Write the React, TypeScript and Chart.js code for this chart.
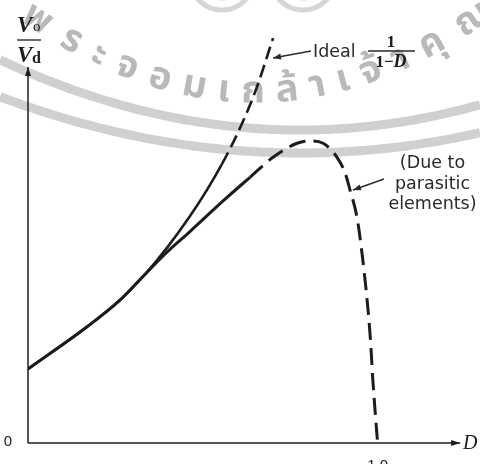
import React, { useEffect, useRef } from "react";
import { Chart, registerables } from "chart.js";

Chart.register(...registerables);

// Duty ratio D and gain Vo/Vd
const IDEAL_D = [0, 0.169, 0.263, 0.335, 0.398, 0.464, 0.512, 0.555, 0.595, 0.629, 0.658, 0.681, 0.701];
const IDEAL_V = [1.0, 1.57, 1.93, 2.28, 2.64, 3.07, 3.42, 3.77, 4.14, 4.5, 4.85, 5.18, 5.47];
const REAL_D = [0, 0.169, 0.263, 0.335, 0.398, 0.464, 0.558, 0.635, 0.701, 0.77, 0.807, 0.844, 0.884, 0.907, 0.921, 0.941, 0.956, 0.97, 0.979, 0.987, 1.0];
const REAL_V = [1.0, 1.57, 1.93, 2.28, 2.58, 2.86, 3.27, 3.59, 3.86, 4.05, 4.08, 4.05, 3.86, 3.65, 3.42, 3.05, 2.54, 1.93, 1.43, 0.81, 0];
const IDEAL_DASH_FROM = 0.55;
const REAL_DASH_FROM = 0.6;
const X_TICK_LABELS = ["0", "1.0"];
const X_TICK_VALUES = [0, 1.0];
const X_AXIS_END = 1.236;
const Y_AXIS_END = 5.08;
const X_MAX = 1.25;
const Y_MAX = 5.85;
const IDEAL_LABEL = "Ideal";
const PARASITIC_LABEL = ["(Due to", "parasitic", "elements)"];
const WATERMARK = "พระจอมเกล้าเจ้าคุณ";

const INK = "#1c1c1c";

function arrowHead(ctx: CanvasRenderingContext2D, x1: number, y1: number, x2: number, y2: number, len: number, half: number) {
  const a = Math.atan2(y2 - y1, x2 - x1);
  ctx.beginPath();
  ctx.moveTo(x2, y2);
  ctx.lineTo(x2 - len * Math.cos(a) + half * Math.sin(a), y2 - len * Math.sin(a) - half * Math.cos(a));
  ctx.lineTo(x2 - len * Math.cos(a) - half * Math.sin(a), y2 - len * Math.sin(a) + half * Math.cos(a));
  ctx.closePath();
  ctx.fill();
}

function arrow(ctx: CanvasRenderingContext2D, x1: number, y1: number, x2: number, y2: number, len = 7, half = 3) {
  ctx.beginPath();
  ctx.moveTo(x1, y1);
  ctx.lineTo(x2, y2);
  ctx.stroke();
  arrowHead(ctx, x1, y1, x2, y2, len, half);
}

function drawWatermark(ctx: CanvasRenderingContext2D) {
  ctx.save();
  // faint logo rings at the top edge
  ctx.strokeStyle = "#d6d6d6";
  ctx.lineWidth = 5;
  const rings: [number, number, number][] = [
    [222, -22, 32],
    [222, -22, 20],
    [303, -22, 32],
    [303, -22, 20],
  ];
  for (const [cx, cy, r] of rings) {
    ctx.beginPath();
    ctx.arc(cx, cy, r, 0, Math.PI * 2);
    ctx.stroke();
  }
  // arc bands
  ctx.strokeStyle = "#d0d0d0";
  ctx.lineWidth = 9;
  const bands: [number, number][] = [
    [130, 0.00078],
    [153, 0.000625],
  ];
  for (const [yb, k] of bands) {
    ctx.beginPath();
    for (let x = 0; x <= 480; x += 4) {
      const y = yb - k * (x - 300) * (x - 300);
      if (x === 0) ctx.moveTo(x, y);
      else ctx.lineTo(x, y);
    }
    ctx.stroke();
  }
  // curved text
  ctx.fillStyle = "#b9b9b9";
  ctx.font = 'bold 38px "Noto Sans Thai", "Noto Sans", sans-serif';
  ctx.textAlign = "center";
  ctx.textBaseline = "middle";
  let graphemes: string[];
  try {
    const seg = new (Intl as any).Segmenter("th", { granularity: "grapheme" });
    graphemes = Array.from(seg.segment(WATERMARK), (s: any) => s.segment);
  } catch (e) {
    graphemes = Array.from(WATERMARK);
  }
  const k = 0.00153, xb = 255, yb = 95;
  let x = 22;
  for (const g of graphemes) {
    const w = ctx.measureText(g).width;
    x += w / 2;
    const y = yb - k * (x - xb) * (x - xb);
    const slope = -2 * k * (x - xb);
    ctx.save();
    ctx.translate(x, y);
    ctx.rotate(Math.atan(slope));
    ctx.fillText(g, 0, 0);
    ctx.restore();
    x += w / 2 + 11;
  }
  ctx.restore();
}

const figurePlugin = {
  id: "figure",
  beforeDraw(chart: any) {
    drawWatermark(chart.ctx);
  },
  afterDraw(chart: any) {
    const ctx: CanvasRenderingContext2D = chart.ctx;
    const xs = chart.scales.x;
    const ys = chart.scales.y;
    const x0 = xs.getPixelForValue(0);
    const y0 = ys.getPixelForValue(0);
    ctx.save();
    ctx.strokeStyle = INK;
    ctx.fillStyle = INK;
    ctx.lineWidth = 1.5;
    // axes with arrows
    arrow(ctx, x0, y0, xs.getPixelForValue(X_AXIS_END), y0, 9, 3);
    arrow(ctx, x0, y0, x0, ys.getPixelForValue(Y_AXIS_END), 9, 3);

    // tick labels
    ctx.font = '15px "Liberation Sans", sans-serif';
    ctx.textAlign = "center";
    ctx.textBaseline = "middle";
    ctx.fillText(X_TICK_LABELS[0], x0 - 20, y0 - 1);
    ctx.textBaseline = "top";
    ctx.fillText(X_TICK_LABELS[1], xs.getPixelForValue(X_TICK_VALUES[1]), y0 + 15);

    // D axis label
    ctx.font = 'italic 20px "Liberation Serif", serif';
    ctx.textAlign = "left";
    ctx.textBaseline = "middle";
    ctx.fillText("D", xs.getPixelForValue(X_AXIS_END) + 3, y0 + 1);

    // y label Vo / Vd
    ctx.textBaseline = "alphabetic";
    ctx.font = 'bold italic 23px "Liberation Serif", serif';
    ctx.fillText("V", 17, 32);
    ctx.font = '15px "Liberation Serif", serif';
    ctx.fillText("o", 33, 31);
    ctx.lineWidth = 1.3;
    ctx.beginPath();
    ctx.moveTo(17, 40);
    ctx.lineTo(41, 40);
    ctx.stroke();
    ctx.font = 'bold italic 23px "Liberation Serif", serif';
    ctx.fillText("V", 17, 62);
    ctx.font = 'bold 16px "Liberation Serif", serif';
    ctx.fillText("d", 32, 63);

    // Ideal annotation
    ctx.font = '17.5px "DejaVu Sans", sans-serif';
    ctx.fillStyle = "#2a2a2a";
    ctx.fillText(IDEAL_LABEL, 313, 57);
    ctx.strokeStyle = "#2a2a2a";
    ctx.fillStyle = "#2a2a2a";
    ctx.lineWidth = 1.4;
    arrow(ctx, 311, 51, 273, 58, 8, 3);

    // 1 / (1 - D)
    ctx.fillStyle = INK;
    ctx.textAlign = "center";
    ctx.font = 'bold 17px "Liberation Serif", serif';
    ctx.fillText("1", 391, 47);
    ctx.lineWidth = 1.4;
    ctx.beginPath();
    ctx.moveTo(368, 51);
    ctx.lineTo(415, 51);
    ctx.stroke();
    ctx.textAlign = "left";
    ctx.font = 'bold 17px "Liberation Serif", serif';
    const denom1 = "1\u2212";
    const w1 = ctx.measureText(denom1).width;
    ctx.font = 'bold italic 18px "Liberation Serif", serif';
    const w2 = ctx.measureText("D").width;
    const dx = 391 - (w1 + w2) / 2;
    ctx.font = 'bold 17px "Liberation Serif", serif';
    ctx.fillText(denom1, dx, 67);
    ctx.font = 'bold italic 18px "Liberation Serif", serif';
    ctx.fillText("D", dx + w1, 67);

    // parasitic annotation
    ctx.font = '17.5px "DejaVu Sans", sans-serif';
    ctx.textAlign = "center";
    ctx.fillStyle = "#2a2a2a";
    const lineYs = [168, 189, 209];
    PARASITIC_LABEL.forEach((t, i) => ctx.fillText(t, 432.5, lineYs[i]));
    ctx.lineWidth = 1.4;
    ctx.strokeStyle = "#2a2a2a";
    arrow(ctx, 384, 179, 353, 190, 8, 3);
    ctx.restore();
  },
};

export default function App() {
  const ref = useRef<HTMLCanvasElement | null>(null);
  useEffect(() => {
    if (!ref.current) return;
    const solidOrDash = (from: number, dash: number[]) => (ctx: any) =>
      ctx.p0.parsed.x >= from ? dash : undefined;
    const chart = new Chart(ref.current, {
      type: "line",
      data: {
        datasets: [
          {
            label: "Ideal",
            data: IDEAL_D.map((d, i) => ({ x: d, y: IDEAL_V[i] })),
            borderColor: INK,
            borderWidth: 2.6,
            pointRadius: 0,
            cubicInterpolationMode: "monotone",
            segment: { borderDash: solidOrDash(IDEAL_DASH_FROM, [13, 6]) },
          },
          {
            label: "Parasitic",
            data: REAL_D.map((d, i) => ({ x: d, y: REAL_V[i] })),
            borderColor: INK,
            borderWidth: 3,
            pointRadius: 0,
            cubicInterpolationMode: "monotone",
            segment: { borderDash: solidOrDash(REAL_DASH_FROM, [17, 8]) },
          },
        ],
      },
      options: {
        animation: false,
        responsive: false,
        devicePixelRatio: 1,
        layout: { padding: { left: 28, right: 15, top: 10, bottom: 21 } },
        scales: {
          x: { type: "linear", min: 0, max: X_MAX, display: false },
          y: { type: "linear", min: 0, max: Y_MAX, display: false },
        },
        plugins: { legend: { display: false }, tooltip: { enabled: false } },
      },
      plugins: [figurePlugin],
    } as any);
    return () => chart.destroy();
  }, []);
  return (
    <div style={{ position: "fixed", left: 0, top: 0, width: 480, height: 464, background: "#fff" }}>
      <canvas ref={ref} width={480} height={464} style={{ width: 480, height: 464, display: "block" }} />
    </div>
  );
}
